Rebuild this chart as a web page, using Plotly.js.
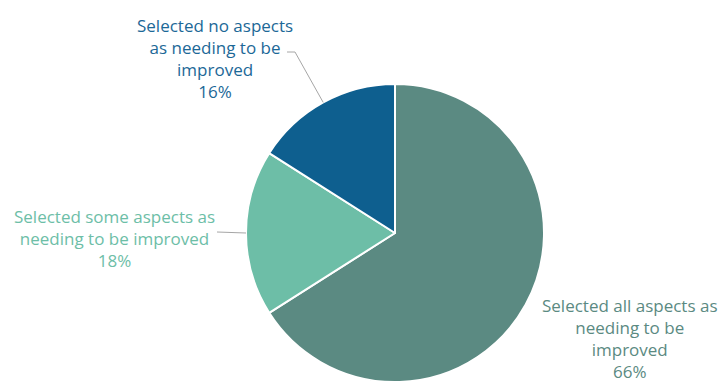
<!DOCTYPE html>
<html>
<head>
<meta charset="utf-8">
<script src="https://cdn.plot.ly/plotly-3.0.1.min.js"></script>
<style>html,body{margin:0;padding:0;background:#fff;}#chart{width:721px;height:382px;}</style>
</head>
<body>
<div id="chart"></div>
<script>
const categories = [
  "Selected all aspects as<br>needing to be<br>improved",
  "Selected some aspects as<br>needing to be improved",
  "Selected no aspects<br>as needing to be<br>improved"
];
const values = [66, 18, 16];
const colors = ["#5b8a82", "#6dbea7", "#0e5f8f"];
const textColors = ["#5b8a82", "#6dbea7", "#1c6897"];

const W = 721, H = 382;
const CX = 395, CY = 233, R = 149;
const px = x => x / W;
const py = y => 1 - y / H;

// label text positions (layout) and leader line text-side anchors
const labelPos = [
  {x: 629, y: 338, line: null},
  {x: 114, y: 238, line: [[217, 232]]},
  {x: 215, y: 59, line: [[287, 52], [295, 52]]}
];

const total = values.reduce((a, b) => a + b, 0);
let cum = 0;
const annotations = [];
const shapes = [];
values.forEach((v, i) => {
  const mid = (cum + v / 2) / total;
  cum += v;
  const ang = mid * 2 * Math.PI; // clockwise from 12 o'clock
  const ex = CX + R * Math.sin(ang);
  const ey = CY - R * Math.cos(ang);
  const pct = Math.round(v / total * 100) + "%";
  annotations.push({
    xref: "paper", yref: "paper",
    x: px(labelPos[i].x), y: py(labelPos[i].y),
    xanchor: "center", yanchor: "middle",
    text: categories[i] + "<br>" + pct,
    showarrow: false, align: "center",
    font: {family: "Open Sans, Noto Sans, sans-serif", size: 17, color: textColors[i]}
  });
  if (labelPos[i].line) {
    const pts = labelPos[i].line.concat([[ex, ey]]);
    let path = "";
    pts.forEach((p, k) => { path += (k ? " L " : "M ") + px(p[0]) + "," + py(p[1]); });
    shapes.push({type: "path", xref: "paper", yref: "paper", path: path,
      line: {color: "#a6a6a6", width: 1}});
  }
});

const trace = {
  type: "pie",
  values: values,
  labels: categories,
  sort: false,
  direction: "clockwise",
  rotation: 0,
  textinfo: "none",
  hoverinfo: "skip",
  marker: {colors: colors, line: {color: "#ffffff", width: 2}},
  domain: {x: [px(CX - R), px(CX + R)], y: [py(CY + R), py(CY - R)]},
  showlegend: false
};

Plotly.newPlot("chart", [trace], {
  width: W, height: H,
  margin: {l: 0, r: 0, t: 0, b: 0},
  paper_bgcolor: "#fff",
  annotations: annotations,
  shapes: shapes,
  showlegend: false
}, {displayModeBar: false, staticPlot: true});
</script>
</body>
</html>
